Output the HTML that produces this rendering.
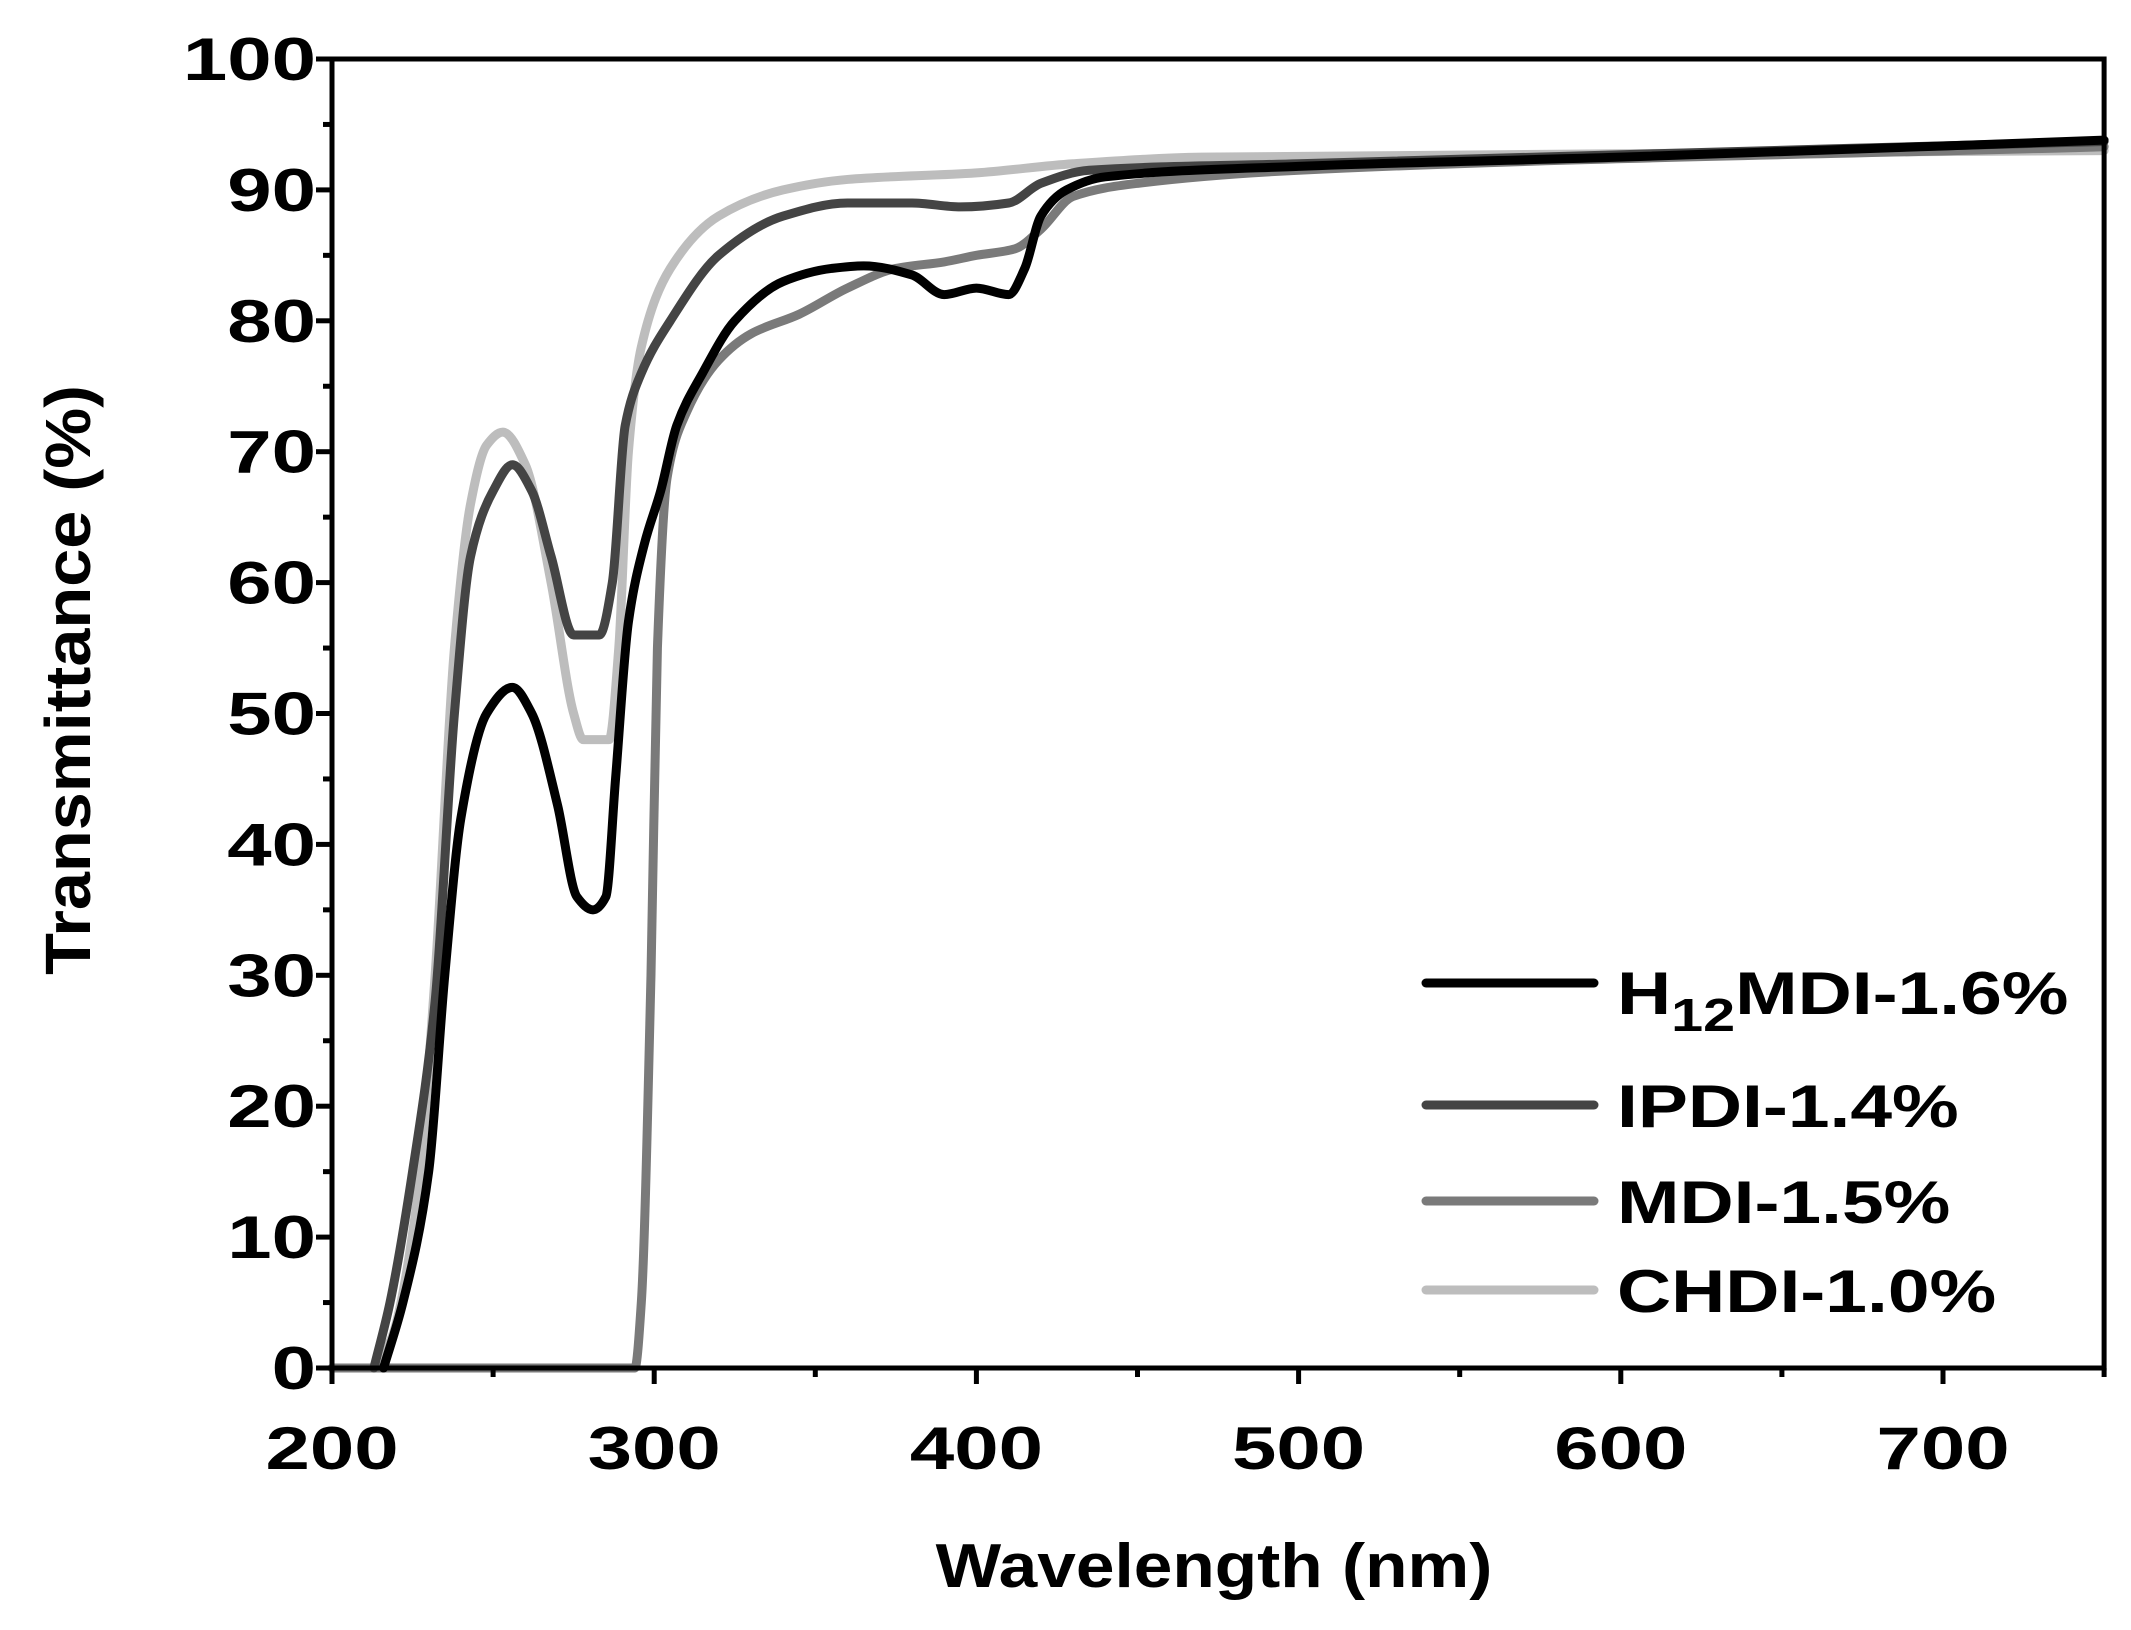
<!DOCTYPE html>
<html><head><meta charset="utf-8"><style>
html,body{margin:0;padding:0;background:#fff;}
svg{display:block;}
text{font-family:"Liberation Sans",Arial,sans-serif;font-weight:bold;fill:#000;}
</style></head><body>
<svg id="s" width="2131" height="1630" viewBox="0 0 2131 1630" xmlns="http://www.w3.org/2000/svg">
<g id="curves" fill="none" stroke-linejoin="round" stroke-linecap="round"></g>
<g id="axes" stroke="#000" stroke-width="5" fill="none"></g>
<g id="labels"></g>
<g stroke-width="9" stroke-linecap="round">
<line x1="1426" y1="983" x2="1594" y2="983" stroke="#000"/>
<line x1="1426" y1="1105" x2="1594" y2="1105" stroke="#444"/>
<line x1="1426" y1="1201" x2="1594" y2="1201" stroke="#7a7a7a"/>
<line x1="1426" y1="1290" x2="1594" y2="1290" stroke="#bdbdbd"/>
</g>
<g transform="translate(1617,1014) scale(1.25,1)"><text x="0" y="0" font-size="60">H<tspan font-size="46" dy="17">12</tspan><tspan dy="-17">MDI-1.6%</tspan></text></g>
<text transform="translate(1617,1127) scale(1.25,1)" font-size="60">IPDI-1.4%</text>
<text transform="translate(1617,1223) scale(1.25,1)" font-size="60">MDI-1.5%</text>
<text transform="translate(1617,1312) scale(1.25,1)" font-size="60">CHDI-1.0%</text>
<text transform="translate(1214,1587) scale(1.12,1)" font-size="62" text-anchor="middle">Wavelength (nm)</text>
<text transform="translate(90,680) rotate(-90) scale(1.07,1)" font-size="64" text-anchor="middle">Transmittance (%)</text>
</svg>
<script>
var X=function(w){return 332+(w-200)*3.222;};
var Y=function(t){return 1368-t*13.09;};
var ns="http://www.w3.org/2000/svg";
function el(p,n,a,t){var e=document.createElementNS(ns,n);for(var k in a)e.setAttribute(k,a[k]);if(t!==undefined)e.textContent=t;p.appendChild(e);return e;}
var ax=document.getElementById('axes'),lb=document.getElementById('labels');
el(ax,'rect',{x:332,y:Y(100),width:X(750)-332,height:1368-Y(100)});
for(var v=0;v<=100;v+=5){var L=v%10==0?16:9;el(ax,'line',{x1:332-L,y1:Y(v),x2:332,y2:Y(v)});
 if(v%10==0)el(lb,'text',{transform:'translate(316,'+(Y(v)+21)+') scale(1.33,1)','font-size':60,'text-anchor':'end'},v);}
for(var w=200;w<=750;w+=50){var L=w%100==0?16:9;el(ax,'line',{x1:X(w),y1:1368,x2:X(w),y2:1368+L});
 if(w%100==0)el(lb,'text',{transform:'translate('+X(w)+',1469) scale(1.33,1)','font-size':60,'text-anchor':'middle'},w);}
var D={
chdi:[[200,0],[212,0],[218,2],[226,12],[232,30],[238,55],[243,66],[248,70.5],[253,71.5],[260,69],[268,60],[275,50],[278,48],[286,48],[289,55],[292,70],[296,78],[305,84],[320,88],[340,90],[360,90.8],[400,91.3],[430,92],[470,92.5],[750,93]],
mdi:[[200,0],[294,0],[296,5],[299,30],[301,55],[304,68],[310,73],[320,77],[330,79],[345,80.5],[360,82.5],[375,84],[390,84.5],[400,85],[412,85.5],[420,87],[430,89.5],[450,90.5],[500,91.5],[750,93.3]],
ipdi:[[213,0],[218,5],[225,15],[232,28],[238,50],[243,62],[250,67],[256,69],[262,67],[268,62],[275,56],[283,56],[287,60],[291,72],[296,76],[305,80],[320,85],[340,88],[360,89],[380,89],[395,88.7],[410,89],[420,90.5],[435,91.5],[500,92],[750,93.7]],
h12:[[216,0],[222,5],[230,15],[235,30],[240,42],[248,50],[256,52],[262,50],[270,43],[276,36],[281,35],[285,36],[288,45],[292,57],[297,63],[302,67],[307,72],[315,76],[325,80],[340,83],[355,84],[365,84.2],[380,83.5],[390,82],[400,82.5],[410,82],[415,84],[420,88],[428,90],[440,91],[500,91.8],[600,92.5],[750,93.8]]};
var C={chdi:'#bdbdbd',mdi:'#7a7a7a',ipdi:'#444',h12:'#000'};
var g=document.getElementById('curves');
function mono(p){var n=p.length,x=p.map(function(q){return X(q[0]);}),y=p.map(function(q){return Y(q[1]);});
 var dl=[],m=[];for(var i=0;i<n-1;i++)dl.push((y[i+1]-y[i])/(x[i+1]-x[i]));
 m[0]=dl[0];m[n-1]=dl[n-2];
 for(var i=1;i<n-1;i++){if(dl[i-1]*dl[i]<=0)m[i]=0;else{var w1=2*(x[i+1]-x[i])+(x[i]-x[i-1]),w2=(x[i+1]-x[i])+2*(x[i]-x[i-1]);m[i]=(w1+w2)/(w1/dl[i-1]+w2/dl[i]);}}
 var d='M'+x[0]+','+y[0];
 for(var i=0;i<n-1;i++){var h=(x[i+1]-x[i])/3;d+=' C'+(x[i]+h)+','+(y[i]+m[i]*h)+' '+(x[i+1]-h)+','+(y[i+1]-m[i+1]*h)+' '+x[i+1]+','+y[i+1];}
 return d;}
['chdi','mdi','ipdi','h12'].forEach(function(k){
 el(g,'path',{d:mono(D[k]),stroke:C[k],'stroke-width':9});
});
</script>
</body></html>
